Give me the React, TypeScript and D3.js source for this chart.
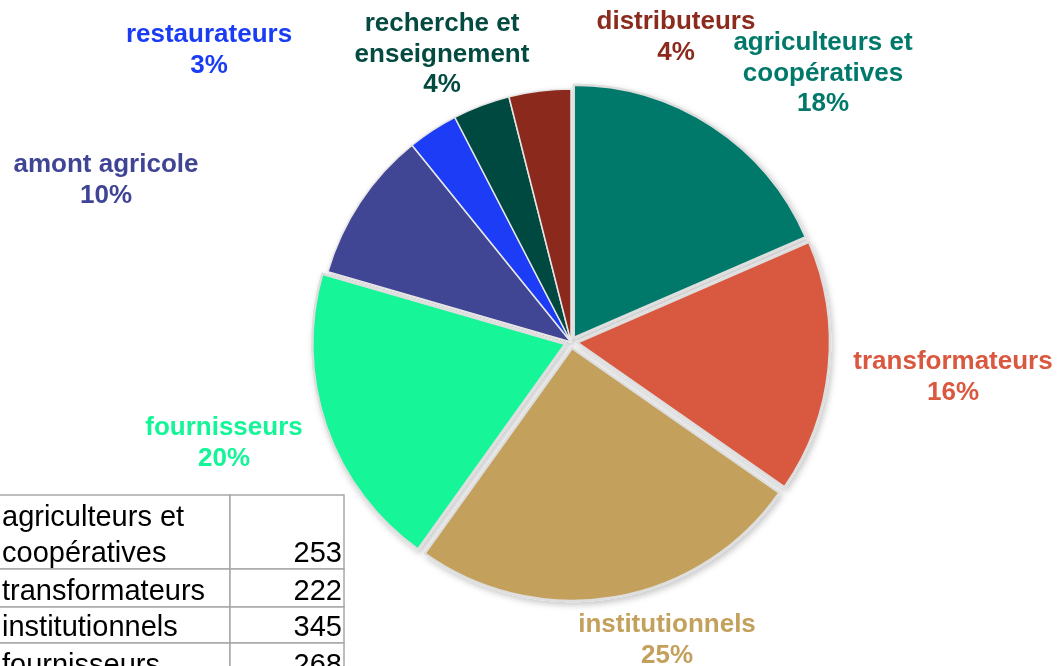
import React from 'react'
import { pie, arc, scaleOrdinal, sum } from 'd3'

const categories = [
  'agriculteurs et\ncoopératives',
  'transformateurs',
  'institutionnels',
  'fournisseurs',
  'amont agricole',
  'restaurateurs',
  'recherche et\nenseignement',
  'distributeurs',
]
const values = [253, 222, 345, 268, 133, 44, 50, 54]
const colors = ['#00796b', '#d9583f', '#c3a05c', '#14f598', '#3f4594', '#1a3cf5', '#034a40', '#8b2b1e']
// label centres (x, y of first line)
const labelPos: [number, number][] = [
  [823, 50], [953, 369], [667, 632], [224, 435], [106, 172], [209, 42], [442, 31], [676, 29],
]
const explode = [5, 6, 6, 6, 0, 0, 0, 0]

const W = 1058
const H = 666
const cx = 571
const cy = 342
const R = 253

export default function App() {
  const total = sum(values)
  const color = scaleOrdinal<string, string>().domain(categories).range(colors)
  const arcs = pie<number>().sort(null).value(d => d)(values)
  const arcGen = arc<any>().innerRadius(0).outerRadius(R)

  const rowY = [495, 569, 607, 643, 681, 719, 757, 795, 833]

  return (
    <svg width={W} height={H} style={{ position: 'fixed', left: 0, top: 0 }} fontFamily="'Liberation Sans', Arial, sans-serif">
      <defs>
        <filter id="sh" x="-20%" y="-20%" width="140%" height="140%">
          <feDropShadow dx="2" dy="3" stdDeviation="3" floodColor="#000" floodOpacity="0.22" />
        </filter>
      </defs>
      <g transform={`translate(${cx},${cy})`} filter="url(#sh)">
        {arcs.map((a, i) => {
          const mid = (a.startAngle + a.endAngle) / 2
          const dx = Math.sin(mid) * explode[i]
          const dy = -Math.cos(mid) * explode[i]
          return (
            <path key={i} d={arcGen(a) as string} transform={`translate(${dx},${dy})`}
              fill={color(categories[i])} stroke={explode[i] ? '#dedede' : '#e6e6e6'} strokeWidth={explode[i] ? 2.5 : 1.5}
              strokeLinejoin="round" />
          )
        })}
      </g>
      {categories.map((c, i) => {
        const lines = c.split('\n').concat([`${Math.round(values[i] / total * 100)}%`])
        return (
          <text key={i} x={labelPos[i][0]} y={labelPos[i][1]} textAnchor="middle" fontWeight="bold" fontSize={26}
            fill={color(c)}>
            {lines.map((l, j) => <tspan key={j} x={labelPos[i][0]} dy={j === 0 ? 0 : 30.5}>{l}</tspan>)}
          </text>
        )
      })}
      <g>
        {categories.map((c, i) => {
          const y0 = rowY[i]
          const y1 = rowY[i + 1]
          if (y0 >= H) return null
          const lines = c.split('\n')
          return (
            <g key={i}>
              <rect x={-10} y={y0} width={240} height={y1 - y0} fill="#fff" stroke="#a8a8a8" strokeWidth={1.5} />
              <rect x={230} y={y0} width={114} height={y1 - y0} fill="#fff" stroke="#a8a8a8" strokeWidth={1.5} />
              {lines.map((l, j) => (
                <text key={j} x={2} y={y1 - 7 - (lines.length - 1 - j) * 36} fontSize={29} fill="#000">{l}</text>
              ))}
              <text x={342} y={y1 - 7} fontSize={29} textAnchor="end" fill="#000">{values[i]}</text>
            </g>
          )
        })}
      </g>
    </svg>
  )
}
